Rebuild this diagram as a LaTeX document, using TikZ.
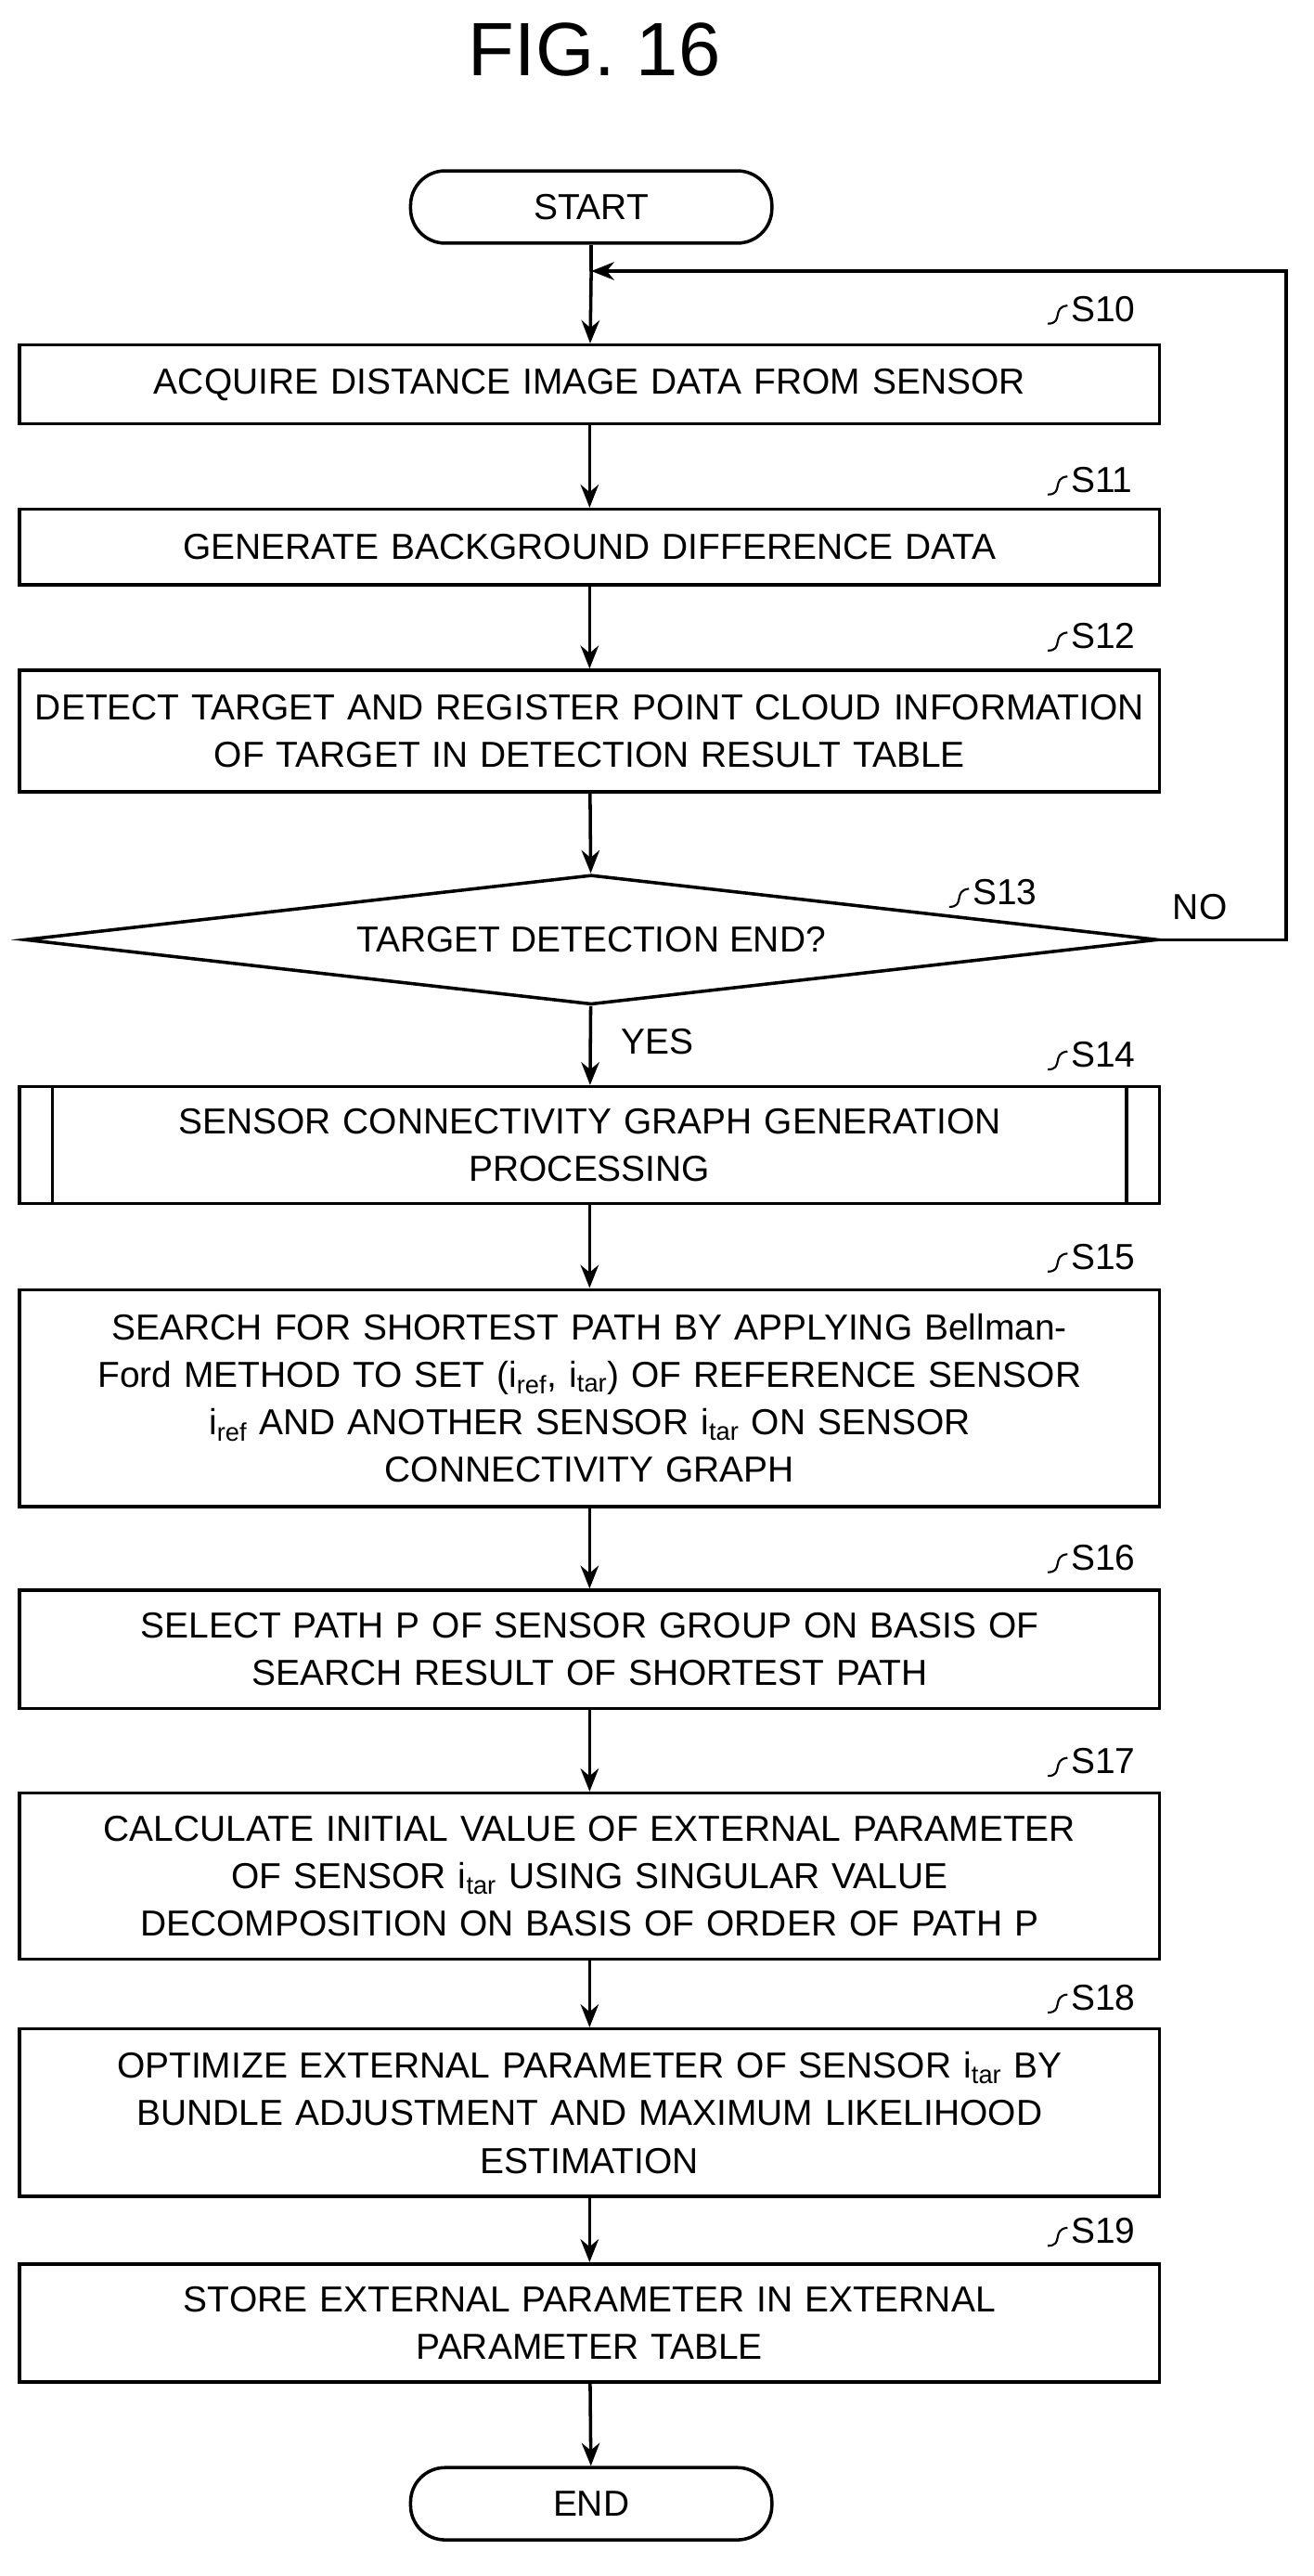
\documentclass[tikz,border=0pt]{standalone}
\usepackage{fontspec}
\setmainfont{Liberation Sans}
\usetikzlibrary{shapes.geometric,arrows.meta}
\begin{document}
\begin{tikzpicture}[x=1pt,y=-1pt,
  box/.style={draw,line width=2pt,minimum width=694pt,text width=690pt,align=center,font=\fontsize{22}{29}\selectfont,inner sep=0pt},
  term/.style={draw,line width=2pt,rounded corners=21pt,minimum width=220pt,minimum height=44pt,font=\fontsize{22}{26}\selectfont},
  arr/.style={line width=2pt,-{Stealth[length=14pt,width=11pt]}},
  lab/.style={anchor=west,font=\fontsize{22}{24}\selectfont,inner sep=0pt},
  sq/.style={line width=1.2pt}]
\useasboundingbox (0,0) rectangle (800,1568);
\node[font=\fontsize{46}{52}\selectfont] (title) at (362,30) {FIG. 16};
\node[term] (start) at (360,126) {START};
\node[box,minimum height=48pt] (s10) at (359,234) {ACQUIRE DISTANCE IMAGE DATA FROM SENSOR};
\node[box,minimum height=46pt] (s11) at (359,333) {GENERATE BACKGROUND DIFFERENCE DATA};
\node[box,minimum height=74pt] (s12) at (359,445) {DETECT TARGET AND REGISTER POINT CLOUD INFORMATION\\OF TARGET IN DETECTION RESULT TABLE};
\node[diamond,draw,line width=2pt,aspect=8.7,minimum width=690pt,minimum height=79pt,inner sep=0pt,font=\fontsize{22}{26}\selectfont] (s13) at (360,572) {TARGET DETECTION END?};
\node[box,minimum height=71pt] (s14) at (359,697) {SENSOR CONNECTIVITY GRAPH GENERATION\\PROCESSING};
\draw[line width=2pt] (32,662) -- (32,733) (686,662) -- (686,733);
\node[box,minimum height=132pt] (s15) at (359,851) {SEARCH FOR SHORTEST PATH BY APPLYING Bellman-\\Ford METHOD TO SET (i\textsubscript{ref}, i\textsubscript{tar}) OF REFERENCE SENSOR\\i\textsubscript{ref} AND ANOTHER SENSOR i\textsubscript{tar} ON SENSOR\\CONNECTIVITY GRAPH};
\node[box,minimum height=72pt] (s16) at (359,1004) {SELECT PATH P OF SENSOR GROUP ON BASIS OF\\SEARCH RESULT OF SHORTEST PATH};
\node[box,minimum height=101pt] (s17) at (359,1142) {CALCULATE INITIAL VALUE OF EXTERNAL PARAMETER\\OF SENSOR i\textsubscript{tar} USING SINGULAR VALUE\\DECOMPOSITION ON BASIS OF ORDER OF PATH P};
\node[box,minimum height=102pt] (s18) at (359,1286) {OPTIMIZE EXTERNAL PARAMETER OF SENSOR i\textsubscript{tar} BY\\BUNDLE ADJUSTMENT AND MAXIMUM LIKELIHOOD\\ESTIMATION};
\node[box,minimum height=72pt] (s19) at (359,1414) {STORE EXTERNAL PARAMETER IN EXTERNAL\\PARAMETER TABLE};
\node[term] (end) at (360,1524) {END};
\coordinate (loop) at (360,165);
\draw[line width=2pt] (start) -- (loop);
\draw[arr] (loop) -- (s10);
\draw[arr] (s10) -- (s11);
\draw[arr] (s11) -- (s12);
\draw[arr] (s12) -- (s13);
\draw[arr] (s13) -- (s14);
\draw[arr] (s14) -- (s15);
\draw[arr] (s15) -- (s16);
\draw[arr] (s16) -- (s17);
\draw[arr] (s17) -- (s18);
\draw[arr] (s18) -- (s19);
\draw[arr] (s19) -- (end);
\draw[arr] (s13.east) -- (783,572) -- (783,165) -- (loop);
\node[lab] (no) at (714,552) {NO};
\node[lab] (yes) at (378,634) {YES};
\foreach \n/\x/\y in {S10/652/188,S11/652/292,S12/652/387,S13/592/543,S14/652/642,S15/652/765,S16/652/948,S17/652/1072,S18/652/1216,S19/652/1358}{
  \node[lab] (l\n) at (\x,\y) {\n};
  \draw[sq] (\x-14,\y+9) .. controls (\x-4,\y+9) and (\x-12,\y-1) .. (\x-2,\y-2);
}
\end{tikzpicture}
\end{document}
